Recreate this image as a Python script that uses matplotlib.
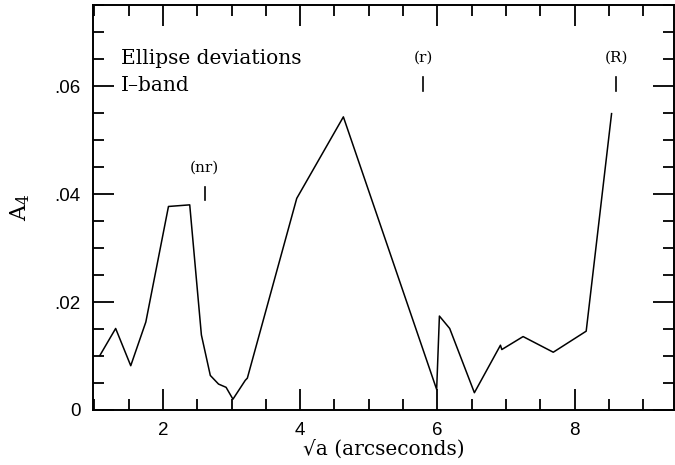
#!/usr/bin/env python3
"""A4 ellipse-deviation profile along sqrt(a), I-band."""

import matplotlib
matplotlib.use("Agg")
import matplotlib.pyplot as plt

# sqrt(a) in arcsec and the A4 coefficient at each isophote
sqrt_a = [1.08, 1.31, 1.53, 1.75, 2.08, 2.39, 2.56, 2.69, 2.81, 2.92, 3.02,
          3.20, 3.23, 3.95, 4.63, 5.99, 6.03, 6.18, 6.54, 6.92, 6.94, 7.25,
          7.69, 8.17, 8.54]
a4 = [0.0101, 0.0151, 0.0082, 0.0163, 0.0377, 0.0380, 0.0139, 0.0064,
      0.0048, 0.0042, 0.0020, 0.0055, 0.0059, 0.0392, 0.0543, 0.0038,
      0.0174, 0.0151, 0.0032, 0.0120, 0.0112, 0.0136, 0.0107, 0.0146,
      0.0549]

# resonance markers: label, position, bottom/top of the tick mark
res_labels = ["(nr)", "(r)", "(R)"]
res_x = [2.61, 5.79, 8.61]
res_lo = [0.0389, 0.0590, 0.0590]
res_hi = [0.0413, 0.0617, 0.0617]

x_ticks = [2, 4, 6, 8]
x_ticklabels = ["2", "4", "6", "8"]
y_ticks = [0.0, 0.02, 0.04, 0.06]
y_ticklabels = ["0", ".02", ".04", ".06"]

serif = "DejaVu Serif"
sans = "Liberation Sans"

fig = plt.figure(figsize=(6.75, 4.65), dpi=100)
ax = fig.add_axes([0.1378, 0.1183, 0.8607, 0.8707])

ax.plot(sqrt_a, a4, color="black", linewidth=1.1)

for lab, x, lo, hi in zip(res_labels, res_x, res_lo, res_hi):
    ax.plot([x, x], [lo, hi], color="black", linewidth=1.2)
    ax.text(x, hi + 0.0035, lab, ha="center", va="center",
            family=serif, fontsize=11)

ax.text(1.39, 0.0651, "Ellipse deviations", ha="left", va="center",
        family=serif, fontsize=14.5)
ax.text(1.39, 0.0601, "I\u2013band", ha="left", va="center",
        family=serif, fontsize=14.5)

ax.set_xlim(0.98, 9.45)
ax.set_ylim(0.0, 0.075)

ax.set_xticks(x_ticks)
ax.set_xticklabels(x_ticklabels, family=sans, fontsize=13.5)
ax.set_yticks(y_ticks)
ax.set_yticklabels(y_ticklabels, family=sans, fontsize=13.5)
ax.set_xticks([v / 2 for v in range(2, 19)], minor=True)
ax.set_yticks([v * 0.005 for v in range(0, 16)], minor=True)

ax.tick_params(which="both", direction="in", top=True, right=True,
               width=1.3, color="black")
ax.tick_params(which="major", length=15, pad=9)
ax.tick_params(which="minor", length=8)

for sp in ax.spines.values():
    sp.set_linewidth(1.4)

ax.set_xlabel("\u221aa (arcseconds)", family=serif, fontsize=14.5, labelpad=0)
ax.set_ylabel(r"$\mathregular{A_4}$", family=serif, fontsize=16, labelpad=16)

fig.savefig("out.png", dpi=100)
